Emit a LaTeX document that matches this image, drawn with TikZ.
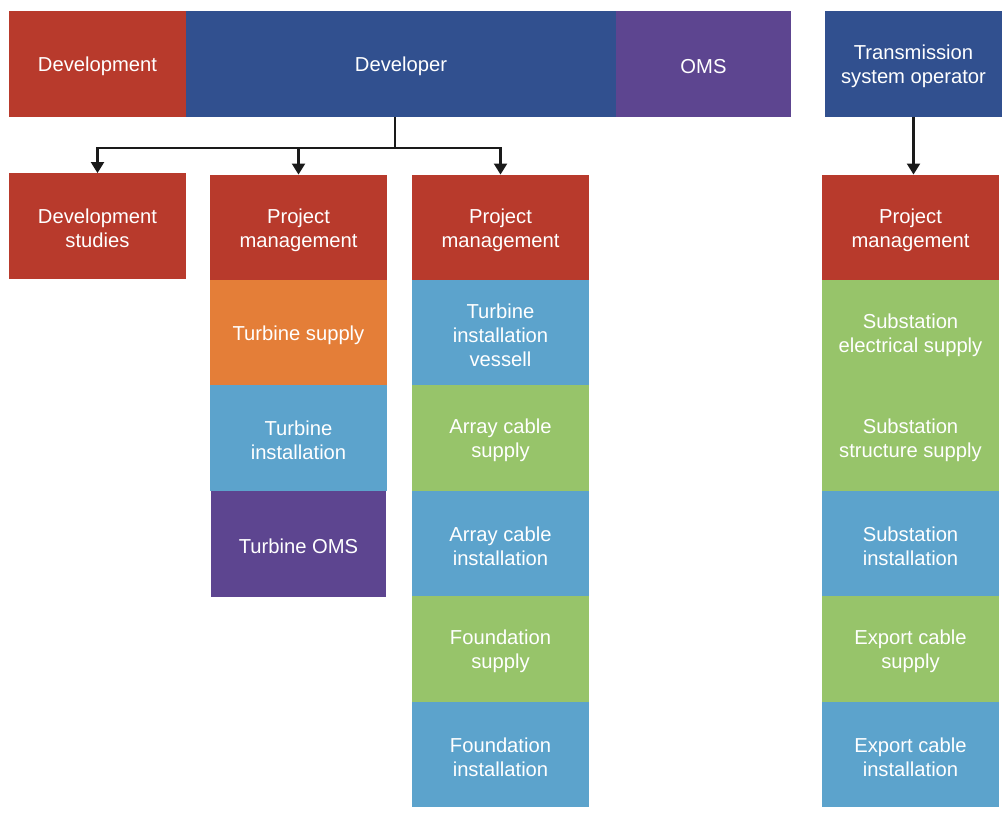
\documentclass[tikz,border=0pt]{standalone}
\usepackage{fontspec}
\setmainfont{Liberation Sans}
\usetikzlibrary{arrows.meta}
\definecolor{cred}{HTML}{B83A2C}
\definecolor{cblue}{HTML}{31508F}
\definecolor{cpurple}{HTML}{5D4590}
\definecolor{corange}{HTML}{E47E38}
\definecolor{clight}{HTML}{5CA3CC}
\definecolor{cgreen}{HTML}{97C46A}
\definecolor{cline}{HTML}{1A1A1A}
\begin{document}
\begin{tikzpicture}[x=1pt,y=-1pt,
  box/.style={rectangle, inner sep=0pt, minimum width=177pt, minimum height=105.5pt},
  lbl/.style={text=white, align=center, inner sep=0pt, yshift=-2.5pt,
    font=\fontsize{20.2}{23.8}\selectfont},
  conn/.style={draw=cline, line width=2.2pt, -{Triangle[width=13pt,length=11pt]}},
  plain/.style={draw=cline, line width=2.2pt}]
\useasboundingbox (0,0) rectangle (1002,816);
% top row
\node[box, fill=cred, label={[lbl]center:Development}] (development) at (97.5,64) {};
\node[box, fill=cblue, minimum width=430pt, label={[lbl]center:Developer}] (developer) at (401,64) {};
\node[box, fill=cpurple, minimum width=175pt, label={[lbl]center:OMS}] (oms) at (703.5,64) {};
\node[box, fill=cblue, label={[lbl]center:{Transmission\\system operator}}] (tso) at (913.5,64) {};
% column 1
\node[box, fill=cred, label={[lbl]center:{Development\\studies}}] (devstudies) at (97.5,226) {};
% column 2
\node[box, fill=cred, label={[lbl]center:{Project\\management}}] (pmA) at (298.5,227.5) {};
\node[box, fill=corange, label={[lbl]center:{Turbine supply}}] (tsupply) at (298.5,332.5) {};
\node[box, fill=clight, label={[lbl]center:{Turbine\\installation}}] (tinst) at (298.5,438) {};
\node[box, fill=cpurple, minimum width=175pt, label={[lbl]center:{Turbine OMS}}] (toms) at (298.5,544) {};
% column 3
\node[box, fill=cred, label={[lbl]center:{Project\\management}}] (pmB) at (500.5,227.5) {};
\node[box, fill=clight, label={[lbl]center:{Turbine\\installation\\vessell}}] (tiv) at (500.5,332.5) {};
\node[box, fill=cgreen, label={[lbl]center:{Array cable\\supply}}] (acs) at (500.5,438) {};
\node[box, fill=clight, label={[lbl]center:{Array cable\\installation}}] (aci) at (500.5,543.5) {};
\node[box, fill=cgreen, label={[lbl]center:{Foundation\\supply}}] (fs) at (500.5,649) {};
\node[box, fill=clight, label={[lbl]center:{Foundation\\installation}}] (fi) at (500.5,754.5) {};
% column 4
\node[box, fill=cred, label={[lbl]center:{Project\\management}}] (pmC) at (910.5,227.5) {};
\node[box, fill=cgreen, label={[lbl]center:{Substation\\electrical supply}}] (ses) at (910.5,332.5) {};
\node[box, fill=cgreen, label={[lbl]center:{Substation\\structure supply}}] (sss) at (910.5,438) {};
\node[box, fill=clight, label={[lbl]center:{Substation\\installation}}] (si) at (910.5,543.5) {};
\node[box, fill=cgreen, label={[lbl]center:{Export cable\\supply}}] (ecs) at (910.5,649) {};
\node[box, fill=clight, label={[lbl]center:{Export cable\\installation}}] (eci) at (910.5,754.5) {};
% connectors
\coordinate (j) at (395,148);
\draw[plain] (j |- developer.south) -- (j);
\draw[conn] (j) -| (devstudies.north);
\draw[conn] (j) -| (pmA.north);
\draw[conn] (j) -| (pmB.north);
\draw[conn] (tso.south) -- (tso.south |- pmC.north);
\end{tikzpicture}
\end{document}
